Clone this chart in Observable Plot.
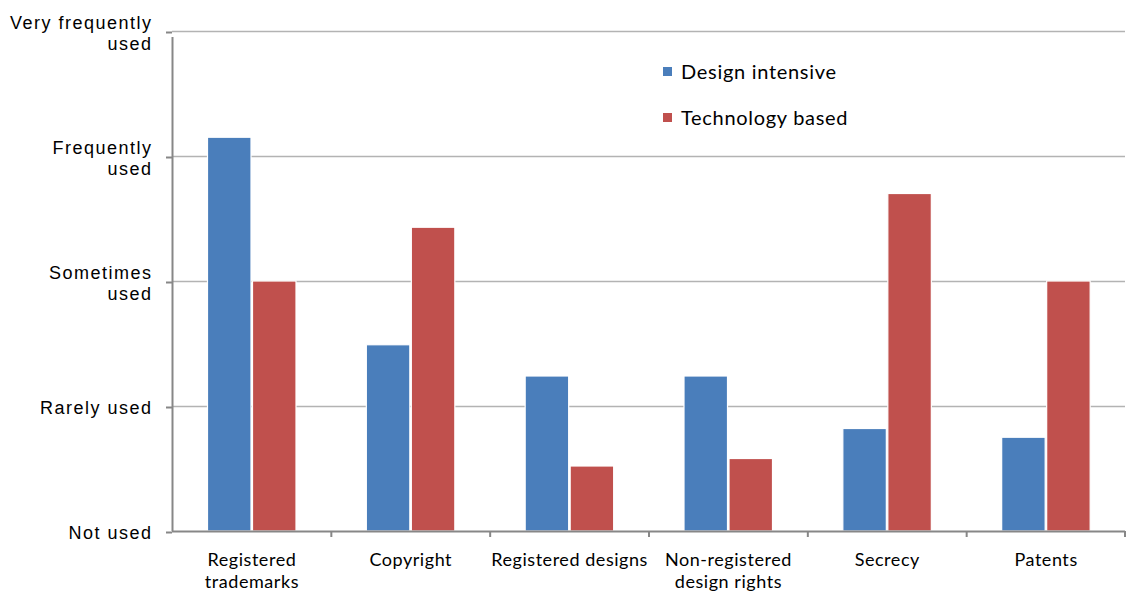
<!DOCTYPE html>
<html>
<head>
<meta charset="utf-8">
<script src="https://cdn.jsdelivr.net/npm/d3@7"></script>
<script src="https://cdn.jsdelivr.net/npm/@observablehq/plot@0.6"></script>
<style>
  body { margin: 0; background: #fff; }
  #chart { position: relative; width: 1126px; height: 591px; overflow: hidden; }
  #chart svg { display: block; }
  #chart svg g[aria-label="y-axis tick label"] text { letter-spacing: 1.5px; }
  #chart svg g[aria-label="x-axis tick label"] text { letter-spacing: 0.55px; }
  .legend { position: absolute; left: 663px; top: 57px; font-family: Lato, "Open Sans", sans-serif; font-size: 20px; letter-spacing: 0.7px; color: #000; }
  .legend div { display: flex; align-items: center; height: 28px; margin-bottom: 18px; }
  .legend span.sw { display: inline-block; width: 9px; height: 9px; margin-right: 9px; }
</style>
</head>
<body>
<div id="chart"></div>
<script>
// Intellectual property protection methods, by firm type
const categories = ["Registered trademarks", "Copyright", "Registered designs", "Non-registered design rights", "Secrecy", "Patents"];
const categoryLabels = ["Registered\ntrademarks", "Copyright", "Registered designs", "Non-registered\ndesign rights", "Secrecy", "Patents"];
const series = ["Design intensive", "Technology based"];
const designIntensive = [4.15, 2.49, 2.24, 2.24, 1.82, 1.75];
const technologyBased = [3.0, 3.43, 1.52, 1.58, 3.70, 3.0];
const levels = [1, 2, 3, 4, 5];
const levelLabels = ["Not used", "Rarely used", "Sometimes\nused", "Frequently\nused", "Very frequently\nused"];
const colors = ["#4A7EBB", "#C0504D"];

const rows = [
  ...categories.map((c, i) => ({category: c, series: series[0], value: designIntensive[i]})),
  ...categories.map((c, i) => ({category: c, series: series[1], value: technologyBased[i]}))
];

const W = 1126, H = 591;
const mL = 172, mR = 1, mT = 31, mB = 60;
const bw = (W - mL - mR) / categories.length;
const axisGray = "#878787";
const gridGray = "#b3b3b3";

const chart = Plot.plot({
  width: W,
  height: H,
  marginLeft: mL,
  marginRight: mR,
  marginTop: mT,
  marginBottom: mB,
  style: {background: "#fff", overflow: "visible"},
  x: {domain: categories, padding: 0, round: false, axis: null},
  y: {domain: [1, 5], axis: null},
  color: {domain: series, range: colors},
  marks: [
    // horizontal gridlines
    Plot.ruleY(levels.slice(1), {stroke: gridGray, strokeWidth: 1.5}),
    // bars, two per category
    Plot.barY(rows.filter(d => d.series === series[0]), {
      x: "category", y1: 1, y2: "value", fill: "series",
      stroke: "#fff", strokeWidth: 1.2, insetLeft: 35.5, insetRight: bw - 79
    }),
    Plot.barY(rows.filter(d => d.series === series[1]), {
      x: "category", y1: 1, y2: "value", fill: "series",
      stroke: "#fff", strokeWidth: 1.2, insetLeft: 80.5, insetRight: bw - 124
    }),
    // y axis line
    Plot.ruleX([categories[0]], {dx: -bw / 2, y1: () => 1, y2: () => 5, insetBottom: -6, stroke: axisGray, strokeWidth: 2}),
    // x axis line
    Plot.ruleY([1], {stroke: axisGray, strokeWidth: 2}),
    // category boundary ticks
    Plot.ruleX(categories.slice(1), {x: d => d, dx: -bw / 2, y1: () => 1, y2: () => 1, insetBottom: -6, stroke: axisGray, strokeWidth: 2}),
    Plot.ruleX([categories[categories.length - 1]], {dx: bw / 2 - 0.5, y1: () => 1, y2: () => 1, insetBottom: -6, stroke: axisGray, strokeWidth: 2}),
    // y ticks and labels
    Plot.axisY(levels, {
      label: null,
      tickSize: 6, tickPadding: 14, stroke: axisGray, strokeWidth: 2,
      tickFormat: d => levelLabels[d - 1],
      fontSize: 18, lineHeight: 1.2, dy: 1,
      fontFamily: "'Liberation Sans', Arial, sans-serif",
      fill: "#000"
    }),
    // category labels
    Plot.axisX({
      label: null,
      tickSize: 0, tickPadding: 19,
      tickFormat: d => categoryLabels[categories.indexOf(d)],
      fontSize: 18, lineHeight: 1.22,
      fontFamily: "Lato, 'Open Sans', sans-serif",
      fill: "#000"
    })
  ]
});

const root = document.getElementById("chart");
root.appendChild(chart);

const legend = document.createElement("div");
legend.className = "legend";
series.forEach((s, i) => {
  const row = document.createElement("div");
  const sw = document.createElement("span");
  sw.className = "sw";
  sw.style.background = colors[i];
  row.appendChild(sw);
  row.appendChild(document.createTextNode(s));
  legend.appendChild(row);
});
root.appendChild(legend);
</script>
</body>
</html>
